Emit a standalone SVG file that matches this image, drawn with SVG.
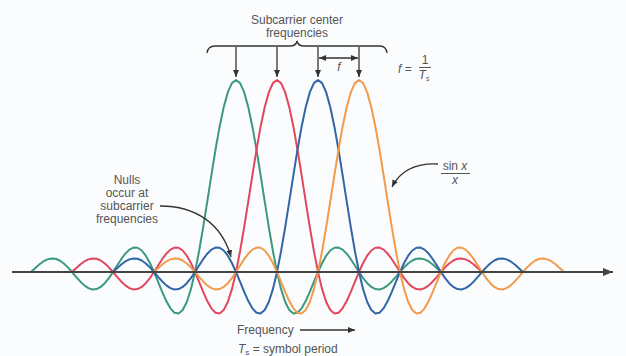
<svg xmlns="http://www.w3.org/2000/svg" xmlns:xlink="http://www.w3.org/1999/xlink" width="626" height="356" viewBox="0 0 626 356">
<style>
.t{font-family:"Liberation Sans",Arial,sans-serif;font-size:12px;fill:#555}
.ti{font-style:italic}
.c{fill:none;stroke-width:2;stroke-linejoin:round;stroke-linecap:round}
.ln{fill:none;stroke:#333;stroke-width:1.3}
</style>
<defs>
<marker id="ah" markerUnits="userSpaceOnUse" markerWidth="8" markerHeight="6" refX="7" refY="3" orient="auto-start-reverse"><path d="M0,0 L7,3 L0,6 z" fill="#333"/></marker>
<marker id="ax" markerUnits="userSpaceOnUse" markerWidth="11" markerHeight="8" refX="10" refY="4" orient="auto"><path d="M0,0 L10,4 L0,8 z" fill="#444"/></marker>
<path id="sinc" d="M-205,0 L-200.9,-3.85 -196.8,-7.48 -192.7,-10.52 -188.6,-12.64 -184.5,-13.58 -180.4,-13.21 -176.3,-11.5 -172.2,-8.55 -168.1,-4.61 -164,0 -159.9,4.84 -155.8,9.45 -151.7,13.36 -147.6,16.15 -143.5,17.46 -139.4,17.1 -135.3,14.98 -131.2,11.23 -127.1,6.09 -123,0 -118.9,-6.51 -114.8,-12.83 -110.7,-18.31 -106.6,-22.36 -102.5,-24.45 -98.4,-24.22 -94.3,-21.5 -90.2,-16.33 -86.1,-8.99 -82,0 -77.9,9.94 -73.8,19.96 -69.7,29.08 -65.6,36.33 -61.5,40.74 -57.4,41.52 -53.3,38.03 -49.2,29.94 -45.1,17.17 -41,0 -36.9,-20.98 -32.8,-44.9 -28.7,-70.63 -24.6,-96.87 -20.5,-122.23 -16.4,-145.31 -12.3,-164.81 -8.2,-179.61 -4.1,-188.86 0,-192 4.1,-188.86 8.2,-179.61 12.3,-164.81 16.4,-145.31 20.5,-122.23 24.6,-96.87 28.7,-70.63 32.8,-44.9 36.9,-20.98 41,0 45.1,17.17 49.2,29.94 53.3,38.03 57.4,41.52 61.5,40.74 65.6,36.33 69.7,29.08 73.8,19.96 77.9,9.94 82,0 86.1,-8.99 90.2,-16.33 94.3,-21.5 98.4,-24.22 102.5,-24.45 106.6,-22.36 110.7,-18.31 114.8,-12.83 118.9,-6.51 123,0 127.1,6.09 131.2,11.23 135.3,14.98 139.4,17.1 143.5,17.46 147.6,16.15 151.7,13.36 155.8,9.45 159.9,4.84 164,0 168.1,-4.61 172.2,-8.55 176.3,-11.5 180.4,-13.21 184.5,-13.58 188.6,-12.64 192.7,-10.52 196.8,-7.48 200.9,-3.85 205,0"/>
</defs>
<rect width="626" height="356" fill="#fbfcfd"/>

<g id="curves">
<use xlink:href="#sinc" href="#sinc" class="c" stroke="#3b9a7e" transform="translate(236,272)"/>
<use xlink:href="#sinc" href="#sinc" class="c" stroke="#e2475f" transform="translate(277,272)"/>
<use xlink:href="#sinc" href="#sinc" class="c" stroke="#3266a8" transform="translate(318,272)"/>
<use xlink:href="#sinc" href="#sinc" class="c" stroke="#f29b4a" transform="translate(359,272)"/>
</g>

<g id="axis">
<line x1="12" y1="272" x2="613" y2="272" stroke="#444" stroke-width="2" marker-end="url(#ax)"/>
</g>

<g id="title">
<text class="t" x="297" y="24" text-anchor="middle">Subcarrier center</text>
<text class="t" x="297" y="37" text-anchor="middle">frequencies</text>
</g>

<g id="connectors">
<path class="ln" d="M207,53 Q208,46 215,46 L290,46 Q296,46 297,41 Q298,46 304,46 L380,46 Q386,46 387,53"/>
<line class="ln" x1="236" y1="47" x2="236" y2="77" marker-end="url(#ah)"/>
<line class="ln" x1="277" y1="47" x2="277" y2="77" marker-end="url(#ah)"/>
<line class="ln" x1="318" y1="47" x2="318" y2="77" marker-end="url(#ah)"/>
<line class="ln" x1="359" y1="47" x2="359" y2="77" marker-end="url(#ah)"/>
<line class="ln" x1="319" y1="58" x2="358" y2="58" marker-start="url(#ah)" marker-end="url(#ah)"/>
<path class="ln" d="M160,206 C196,206 222,224 231,257" marker-end="url(#ah)"/>
<path class="ln" d="M438,164 C416,163 400,171 392,187" marker-end="url(#ah)"/>
<line class="ln" x1="300" y1="330" x2="355" y2="330" marker-end="url(#ah)"/>
</g>

<g id="f-label">
<text class="t ti" x="339" y="71" text-anchor="middle" font-size="10">f</text>
</g>

<g id="f-formula">
<text class="t" x="398" y="73" font-size="10"><tspan class="ti">f</tspan> =</text>
<text class="t" x="425" y="64" text-anchor="middle" font-size="10">1</text>
<line x1="419" y1="67.5" x2="431" y2="67.5" stroke="#555" stroke-width="1"/>
<text class="t" x="424" y="79" text-anchor="middle" font-size="10"><tspan class="ti">T</tspan><tspan font-size="7" dy="2">s</tspan></text>
</g>

<g id="nulls-label">
<text class="t" x="127" y="184" text-anchor="middle">Nulls</text>
<text class="t" x="127" y="197" text-anchor="middle">occur at</text>
<text class="t" x="127" y="210" text-anchor="middle">subcarrier</text>
<text class="t" x="127" y="223" text-anchor="middle">frequencies</text>
</g>

<g id="sinc-label">
<text class="t" x="455" y="170" text-anchor="middle">sin <tspan class="ti">x</tspan></text>
<line x1="441" y1="173.5" x2="470" y2="173.5" stroke="#555" stroke-width="1"/>
<text class="t ti" x="455" y="184" text-anchor="middle">x</text>
</g>

<g id="freq-label">
<text class="t" x="237" y="334">Frequency</text>
</g>

<g id="period-label">
<text class="t" x="238" y="353"><tspan class="ti">T</tspan><tspan font-size="8" dy="2">s</tspan><tspan dy="-2"> = symbol period</tspan></text>
</g>
</svg>
